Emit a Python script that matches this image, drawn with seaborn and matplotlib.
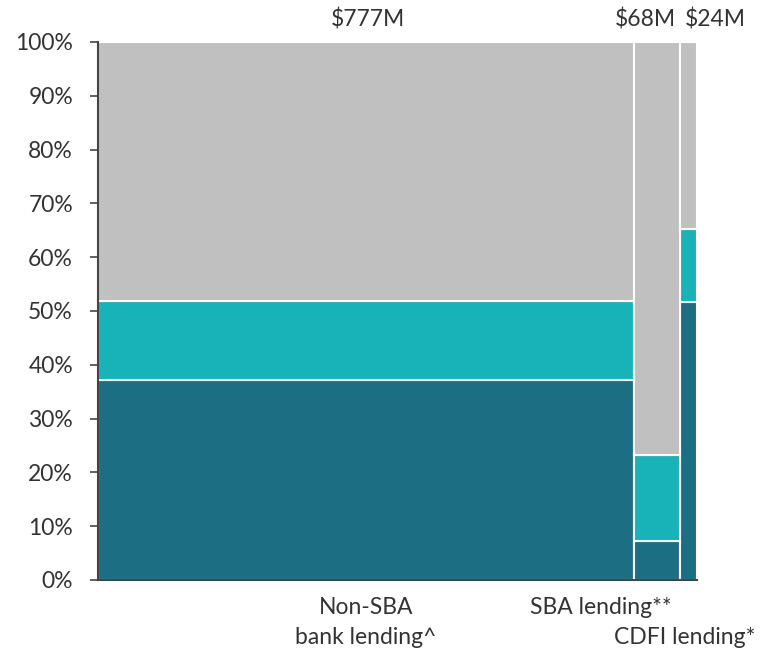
import numpy as np
import matplotlib
matplotlib.use("Agg")
import matplotlib.pyplot as plt
import seaborn as sns

# ── Data ──────────────────────────────────────────────────────────────────────
segments = ["Non-SBA bank lending^", "SBA lending**", "CDFI lending*"]
totals = [777, 68, 24]                     # $M, sets column widths
total_labels = ["$777M", "$68M", "$24M"]
share_dark = [37.2, 7.2, 51.7]             # %
share_teal = [14.6, 16.0, 13.5]            # %
share_gray = [48.2, 76.8, 34.8]            # %

COLORS = ["#1c6f82", "#17b3b9", "#c0c0c0"]
TEXT = "#333333"
FS = 16.5

sns.set_style("white")
plt.rcParams["font.family"] = ["Lato", "DejaVu Sans"]

fig = plt.figure(figsize=(7.67, 6.5), dpi=100)
ax = fig.add_axes([98 / 767, 70 / 650, 599 / 767, 538 / 650])

widths = np.array(totals, dtype=float)
lefts = np.concatenate([[0], np.cumsum(widths)[:-1]])
bottom = np.zeros(len(totals))
for vals, col in zip([share_dark, share_teal, share_gray], COLORS):
    vals = np.array(vals)
    ax.bar(lefts, vals, width=widths, bottom=bottom, align="edge",
           color=col, edgecolor="white", linewidth=1.5)
    bottom += vals

ax.set_xlim(0, widths.sum())
ax.set_ylim(0, 100)
ax.set_yticks(np.arange(0, 101, 10))
ax.set_yticklabels([f"{v}%" for v in range(0, 101, 10)], fontsize=FS, color=TEXT)
ax.set_xticks([])
ax.tick_params(axis="y", left=True, length=6, width=1.2, color="#444444", pad=12)

for s in ["top", "right"]:
    ax.spines[s].set_visible(False)
for s in ["left", "bottom"]:
    ax.spines[s].set_color("#444444")
    ax.spines[s].set_linewidth(1.5)

# totals above columns (pixel offsets keep the narrow labels apart)
centers = lefts + widths / 2
top_offsets = [(2, 22), (-12, 22), (27, 22)]
for c, lab, off in zip(centers, total_labels, top_offsets):
    ax.annotate(lab, xy=(c, 100), xytext=off, textcoords="offset pixels",
                ha="center", va="center", fontsize=FS, color=TEXT,
                annotation_clip=False)

# category labels below
below = [
    ("Non-SBA", centers[0], (0, -28)),
    ("bank lending^", centers[0], (0, -57)),
    ("SBA lending**", centers[1], (-56, -28)),
    ("CDFI lending*", centers[2], (-4, -57)),
]
for lab, c, off in below:
    ax.annotate(lab, xy=(c, 0), xytext=off, textcoords="offset pixels",
                ha="center", va="center", fontsize=FS, color=TEXT,
                annotation_clip=False)

fig.savefig("out.png", dpi=100)
